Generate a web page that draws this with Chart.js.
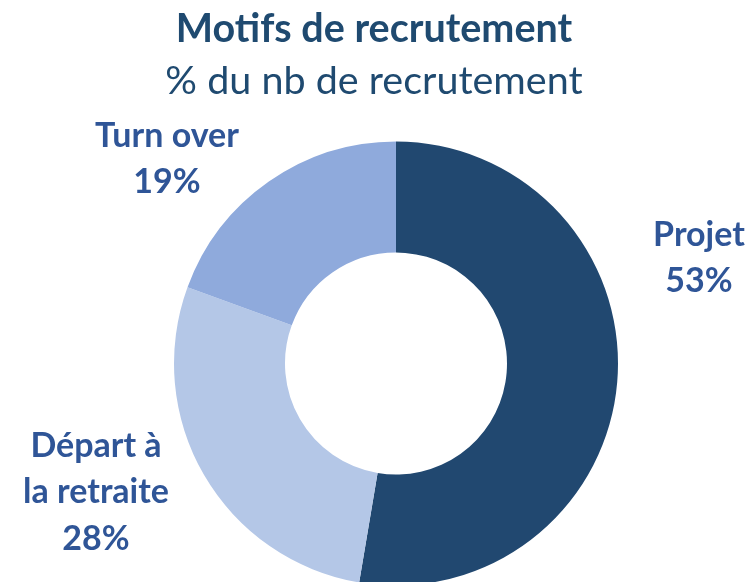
<!DOCTYPE html>
<html>
<head>
<meta charset="utf-8">
<script src="https://cdn.jsdelivr.net/npm/chart.js@4/dist/chart.umd.min.js"></script>
<style>
  html, body { margin: 0; padding: 0; background: #ffffff; overflow: hidden; }
  #wrap { width: 751px; height: 582px; position: relative; }
</style>
</head>
<body>
<div id="wrap"><canvas id="c" width="751" height="582"></canvas></div>
<script>
// ---- data ----
const categories = ["Projet", "Départ à la retraite", "Turn over"];
const labelLines = [["Projet"], ["Départ à", "la retraite"], ["Turn over"]];
const values = [52.6, 27.9, 19.4];
const titleText = "Motifs de recrutement";
const subtitleText = "% du nb de recrutement";

// ---- styles ----
const colors = ["#214870", "#B4C7E7", "#8FAADC"];
const FONT = "Lato, 'Open Sans', sans-serif";
const titleColor = "#1F4A70";
const labelColor = "#2F5597";
// label anchor offsets relative to doughnut center (dx, baseline dy of first line)
const labelOffsets = [[303, -118], [-300, 93], [-229, -217]];
const lineGap = 46.5;

const textPlugin = {
  id: 'texts',
  afterDraw(chart) {
    const ctx = chart.ctx;
    ctx.save();
    ctx.textAlign = 'center';
    ctx.textBaseline = 'alphabetic';
    ctx.fillStyle = titleColor;
    ctx.font = "bold 39.5px " + FONT;
    ctx.fillText(titleText, 374, 42);
    ctx.font = "39.5px " + FONT;
    ctx.fillText(subtitleText, 374, 94);

    const meta = chart.getDatasetMeta(0);
    const arc0 = meta.data[0];
    const cx = arc0.x, cy = arc0.y;
    const total = values.reduce((a, b) => a + b, 0);
    ctx.fillStyle = labelColor;
    ctx.font = "bold 34px " + FONT;
    labelLines.forEach((lines, i) => {
      const pct = Math.round(values[i] / total * 100) + "%";
      const all = lines.concat([pct]);
      const [dx, dy] = labelOffsets[i];
      all.forEach((t, k) => ctx.fillText(t, cx + dx, cy + dy + k * lineGap));
    });
    ctx.restore();
  }
};

new Chart(document.getElementById('c'), {
  type: 'doughnut',
  data: {
    labels: categories,
    datasets: [{
      data: values,
      backgroundColor: colors,
      borderWidth: 0,
      clip: false
    }]
  },
  options: {
    responsive: false,
    animation: false,
    events: [],
    radius: 222,
    cutout: '50%',
    layout: { padding: { top: 145, left: 41, right: 0, bottom: 0 } },
    plugins: {
      legend: { display: false },
      tooltip: { enabled: false },
      title: { display: false }
    }
  },
  plugins: [textPlugin]
});
</script>
</body>
</html>
